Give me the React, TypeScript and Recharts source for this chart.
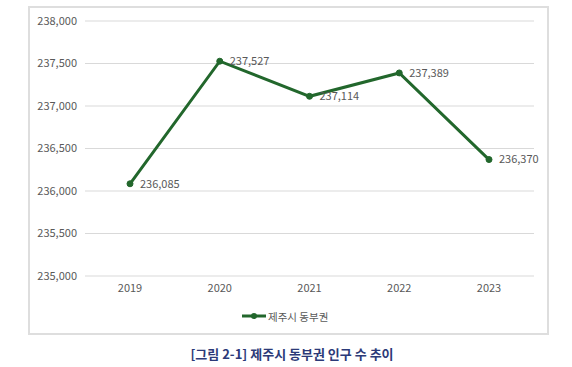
import { LineChart, Line, XAxis, YAxis, CartesianGrid, Legend, LabelList } from "recharts";

// 제주시 동부권 인구 추이 (2019–2023)
const years = ["2019", "2020", "2021", "2022", "2023"];
const population = [236085, 237527, 237114, 237389, 236370];
const yTicks = [235000, 235500, 236000, 236500, 237000, 237500, 238000];
const seriesName = "제주시 동부권";
const caption = "[그림 2-1] 제주시 동부권 인구 수 추이";

const data = years.map((year, i) => ({ year, value: population[i] }));

const GREEN = "#22672c";
const TEXT = "#595959";
const FONT = "'Noto Sans CJK KR', 'Noto Sans', sans-serif";

const fmt = (v: number) => v.toLocaleString("en-US");

function LegendContent() {
  return (
    <div style={{ display: "flex", alignItems: "center", height: 20, paddingLeft: 242 }}>
      <svg width={24} height={10} style={{ marginRight: 2 }}>
        <line x1={0} y1={5} x2={24} y2={5} stroke={GREEN} strokeWidth={3} />
        <circle cx={12} cy={5} r={3} fill={GREEN} />
      </svg>
      <span style={{ fontFamily: FONT, fontSize: 10.5, color: TEXT }}>{seriesName}</span>
    </div>
  );
}

export default function App() {
  return (
    <div style={{ position: "absolute", left: 0, top: 0, width: 572, height: 367, background: "#fff" }}>
      <div
        style={{
          position: "absolute",
          left: 28,
          top: 6,
          width: 517,
          height: 325,
          border: "2px solid #dedede",
        }}
      />
      <div style={{ position: "absolute", left: 0, top: 0 }}>
        <LineChart width={572} height={333} data={data} margin={{ top: 21, right: 38, bottom: 7, left: 0 }}>
          <CartesianGrid vertical={false} stroke="#d9d9d9" />
          <XAxis
            dataKey="year"
            axisLine={false}
            tickLine={false}
            height={30}
            padding={{ left: 45, right: 45 }}
            tick={{ fill: TEXT, fontSize: 11, fontFamily: FONT }}
          />
          <YAxis
            width={85}
            domain={[235000, 238000]}
            ticks={yTicks}
            tickFormatter={fmt}
            axisLine={false}
            tickLine={false}
            tick={{ fill: TEXT, fontSize: 11, fontFamily: FONT }}
          />
          <Legend
            verticalAlign="bottom"
            height={20}
            wrapperStyle={{ left: 0, width: 572 }}
            content={<LegendContent />}
          />
          <Line
            dataKey="value"
            name={seriesName}
            stroke={GREEN}
            strokeWidth={3}
            dot={{ r: 3, fill: GREEN, stroke: GREEN, strokeWidth: 1 }}
            isAnimationActive={false}
          >
            <LabelList
              dataKey="value"
              position="right"
              offset={10}
              formatter={(v: any) => fmt(Number(v))}
              style={{ fill: TEXT, fontSize: 11, fontFamily: FONT }}
            />
          </Line>
        </LineChart>
      </div>
      <div
        style={{
          position: "absolute",
          left: 0,
          top: 344,
          width: 584,
          textAlign: "center",
          fontFamily: FONT,
          fontSize: 13,
          fontWeight: 700,
          color: "#2c3a78",
        }}
      >
        {caption}
      </div>
    </div>
  );
}
